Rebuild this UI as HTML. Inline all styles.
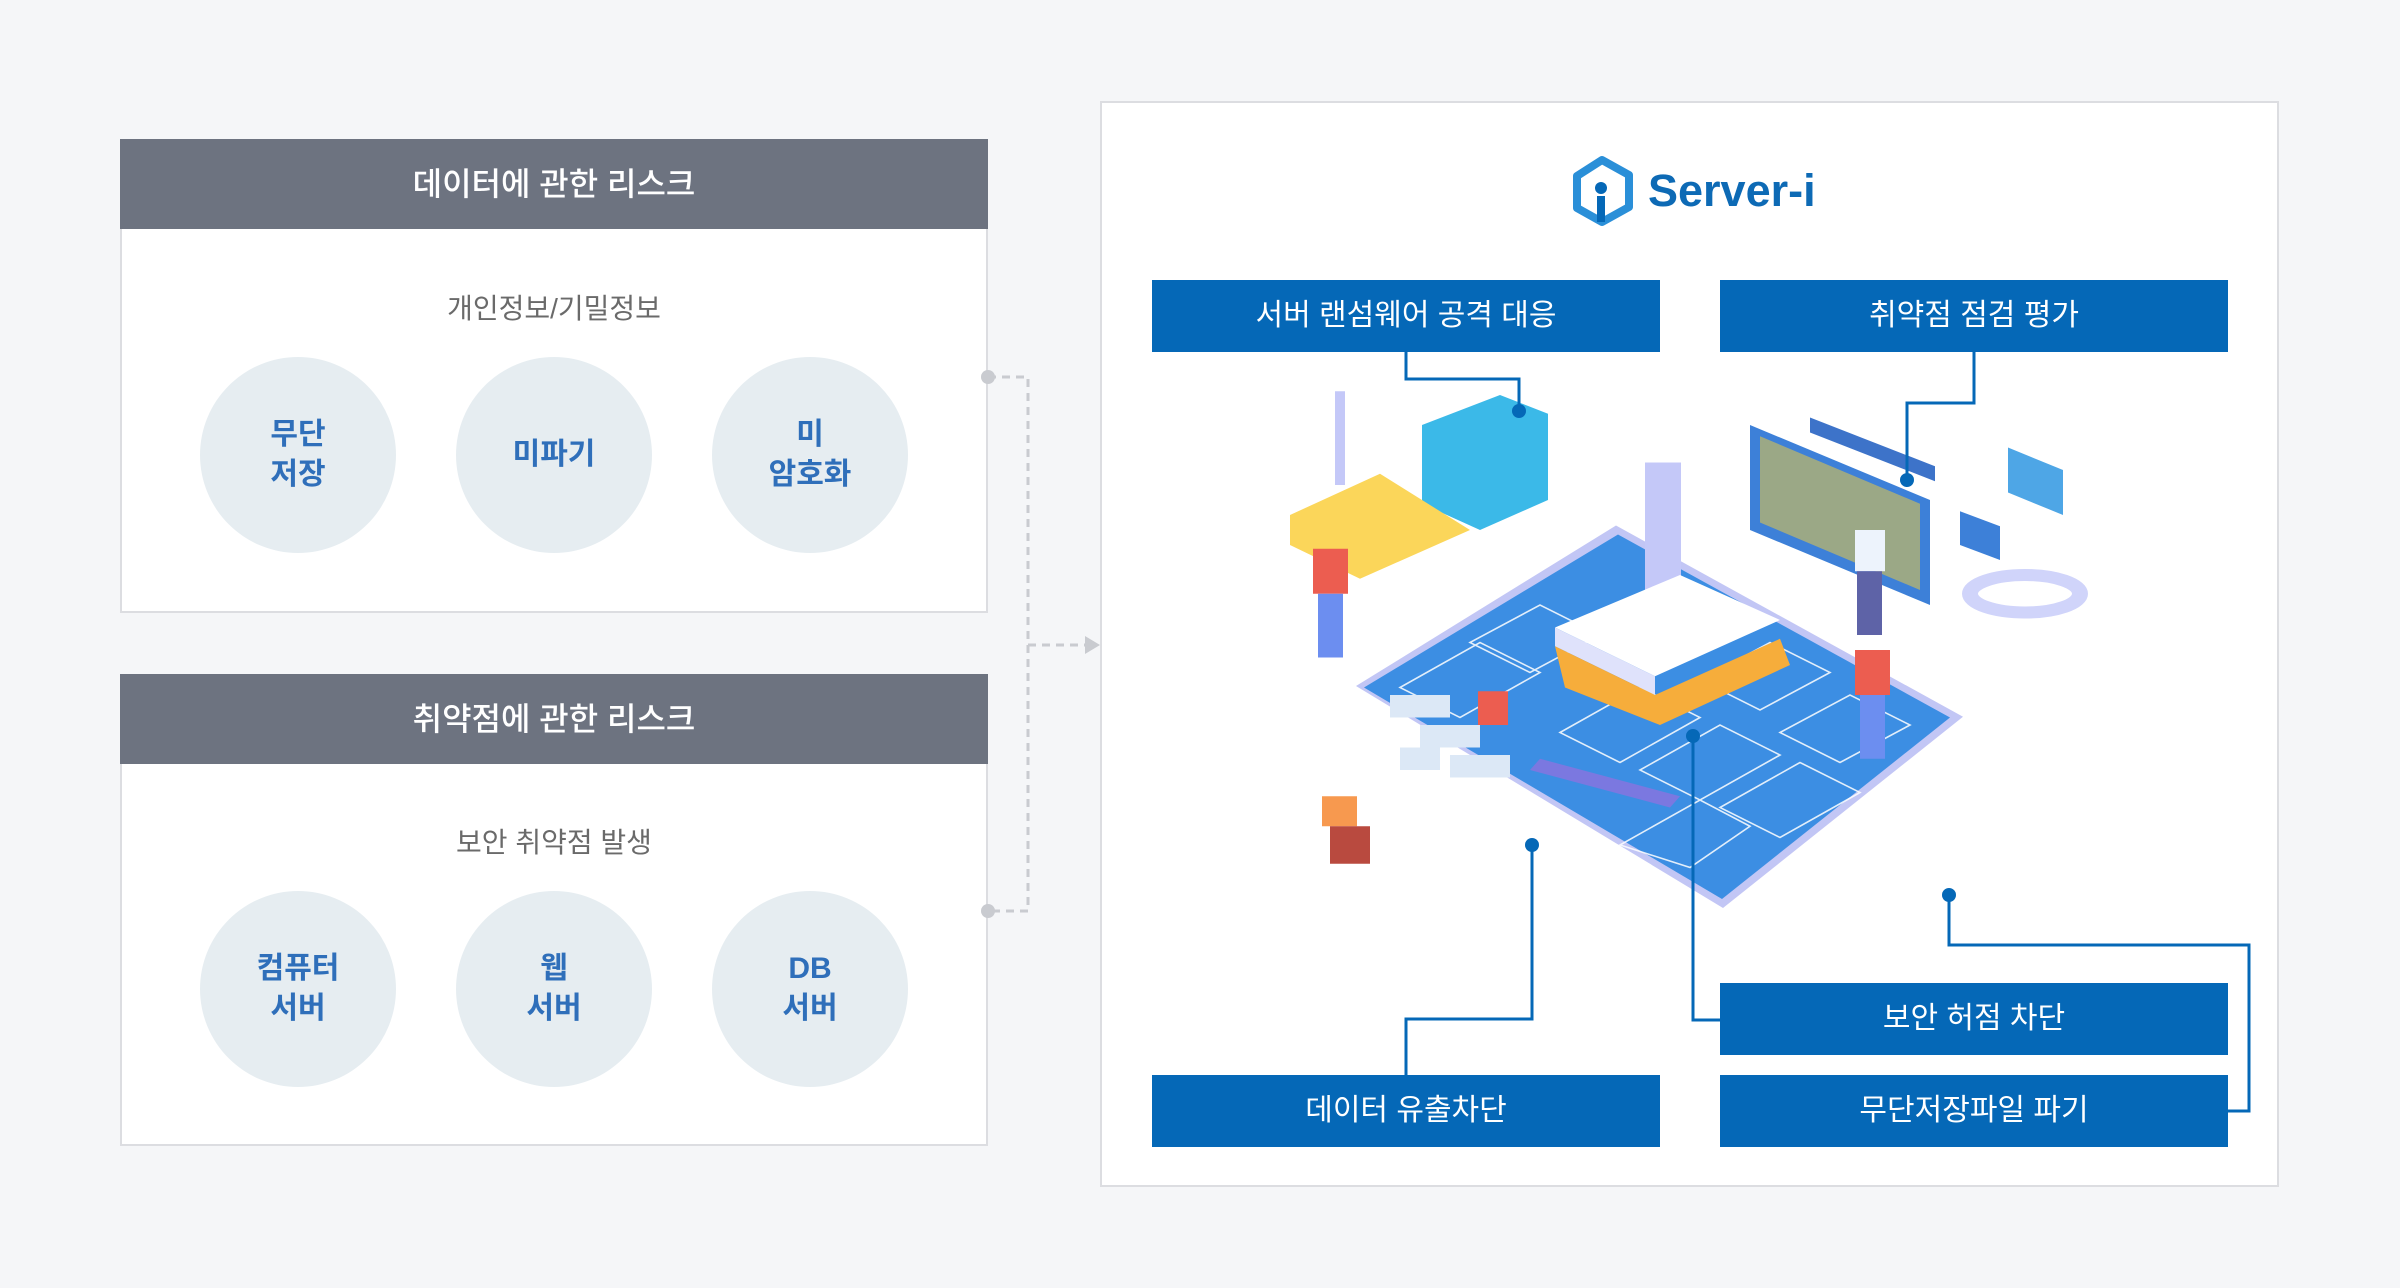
<!DOCTYPE html>
<html><head><meta charset="utf-8"><style>
*{margin:0;padding:0;box-sizing:border-box}
body{width:2400px;height:1288px;background:#f5f6f8;position:relative;overflow:hidden;font-family:"Liberation Sans","Noto Sans CJK KR",sans-serif}
.box{position:absolute;left:120px;width:868px;background:#fff;border:2px solid #dcdde1}
.hd{position:absolute;left:120px;width:868px;height:90px;background:#6d7380;color:#fff;font-size:32px;font-weight:500;text-align:center;line-height:90px}
.sub{position:absolute;left:120px;width:868px;text-align:center;font-size:28px;color:#6a6a6a}
.c{position:absolute;width:196px;height:196px;border-radius:50%;background:#e6edf1;color:#2f6fba;font-size:30px;font-weight:bold;display:flex;align-items:center;justify-content:center;text-align:center;line-height:40px}
.rb{position:absolute;left:1100px;top:101px;width:1179px;height:1086px;background:#fff;border:2px solid #dcdde1}
.bb{position:absolute;width:508px;height:72px;background:#0568b7;color:#fff;font-size:30px;text-align:center;line-height:72px}
</style></head><body>
<div class="box" style="top:139px;height:474px"></div>
<div class="hd" style="top:139px">데이터에 관한 리스크</div>
<div class="sub" style="top:287px">개인정보/기밀정보</div>
<div class="c" style="left:200px;top:357px">무단<br>저장</div>
<div class="c" style="left:456px;top:357px">미파기</div>
<div class="c" style="left:712px;top:357px">미<br>암호화</div>

<div class="box" style="top:674px;height:472px"></div>
<div class="hd" style="top:674px">취약점에 관한 리스크</div>
<div class="sub" style="top:821px">보안 취약점 발생</div>
<div class="c" style="left:200px;top:891px">컴퓨터<br>서버</div>
<div class="c" style="left:456px;top:891px">웹<br>서버</div>
<div class="c" style="left:712px;top:891px">DB<br>서버</div>

<svg style="position:absolute;left:0;top:0" width="2400" height="1288">
<g stroke="#c9cbd0" stroke-width="3" fill="none" stroke-dasharray="8,6">
<path d="M988 377 H1028 V911 H988"/><path d="M1028 645 H1090"/>
</g>
<circle cx="988" cy="377" r="7" fill="#c9cbd0"/><circle cx="988" cy="911" r="7" fill="#c9cbd0"/>
<path d="M1085 636 L1100 645 L1085 654Z" fill="#c9cbd0"/>
</svg>

<div class="rb"></div>
<svg style="position:absolute;left:0;top:0" width="2400" height="1288">
<path d="M1602 160 L1629 175 L1629 207 L1602 222 L1577 208 L1577 176Z" fill="none" stroke="#2a8fd8" stroke-width="8" stroke-linejoin="round"/>
<circle cx="1601" cy="188" r="6" fill="#0568b7"/><rect x="1597" y="196" width="8" height="26" fill="#0568b7"/>
<text x="1648" y="206" font-size="45" font-weight="bold" fill="#0d6ab5" font-family="Liberation Sans,sans-serif">Server-i</text>
<g transform="translate(0,95) scale(1,0.75)">
<path d="M1356 788 L1616 574 L1963 829 L1723 1084Z" fill="#c2c6f5"/>
<path d="M1364 790 L1618 586 L1950 830 L1722 1072Z" fill="#3c8ee3"/>
<g stroke="#fff" stroke-width="2" fill="none" opacity="0.85">
<path d="M1400 790 L1480 730 L1540 770 L1460 830Z"/><path d="M1470 730 L1540 680 L1600 720 L1530 770Z"/>
<path d="M1560 850 L1640 790 L1700 830 L1620 890Z"/><path d="M1640 900 L1720 840 L1780 880 L1700 940Z"/>
<path d="M1720 950 L1800 890 L1860 930 L1780 990Z"/><path d="M1780 850 L1850 800 L1910 840 L1840 890Z"/>
<path d="M1700 780 L1770 730 L1830 770 L1760 820Z"/><path d="M1620 1000 L1700 940 L1750 975 L1690 1030Z"/>
</g>
<rect x="1645" y="490" width="36" height="190" fill="#c4c8f8"/>
<path d="M1555 710 L1680 640 L1780 700 L1655 775Z" fill="#fff"/>
<path d="M1555 710 L1655 775 L1655 800 L1555 735Z" fill="#dfe2fb"/>
<path d="M1555 735 L1655 800 L1780 725 L1790 760 L1660 840 L1565 790Z" fill="#f6ad3b"/>
<path d="M1422 440 L1500 400 L1548 425 L1548 540 L1480 580 L1422 545Z" fill="#3bb9e8"/>
<path d="M1290 560 L1380 505 L1470 580 L1360 645 L1290 600Z" fill="#fbd65a"/>
<rect x="1335" y="395" width="10" height="125" fill="#c4c8f8"/>
<path d="M1750 440 L1930 540 L1930 680 L1750 580Z" fill="#3d80d8"/>
<path d="M1760 455 L1920 545 L1920 660 L1760 570Z" fill="#e9c843" opacity="0.55"/>
<path d="M1810 430 L1935 495 L1935 515 L1810 450Z" fill="#3d73c9"/>
<path d="M2008 470 L2063 500 L2063 560 L2008 530Z" fill="#4ea6e6"/>
<path d="M1960 555 L2000 575 L2000 620 L1960 600Z" fill="#3d80d8"/>
<ellipse cx="2025" cy="665" rx="55" ry="25" fill="none" stroke="#d0d4fa" stroke-width="16"/>
<g fill="#ec5d50"><rect x="1313" y="605" width="35" height="60"/><rect x="1855" y="740" width="35" height="60"/><rect x="1478" y="795" width="30" height="45"/></g>
<g fill="#6c8ef0"><rect x="1318" y="665" width="25" height="85"/><rect x="1860" y="800" width="25" height="85"/></g>
<rect x="1855" y="580" width="30" height="55" fill="#edf3fc"/><rect x="1857" y="635" width="25" height="85" fill="#5e63a7"/>
<rect x="1322" y="935" width="35" height="40" fill="#f7994f"/><rect x="1330" y="975" width="40" height="50" fill="#b94a3f"/>
<path d="M1530 900 L1670 950 L1680 935 L1540 885Z" fill="#7b78e0"/>
<g fill="#dce8f6"><rect x="1390" y="800" width="60" height="30"/><rect x="1420" y="840" width="60" height="30"/><rect x="1450" y="880" width="60" height="30"/><rect x="1400" y="870" width="40" height="30"/></g>
</g>
<g stroke="#0568b7" stroke-width="3" fill="none">
<path d="M1406 351 V379 H1519 V411"/>
<path d="M1974 351 V403 H1907 V480"/>
<path d="M1406 1075 V1019 H1532 V845"/>
<path d="M1720 1020 H1693 V736"/>
<path d="M2228 1111 H2249 V945 H1949 V895"/>
</g>
<g fill="#0568b7"><circle cx="1519" cy="411" r="7"/><circle cx="1907" cy="480" r="7"/><circle cx="1532" cy="845" r="7"/><circle cx="1693" cy="736" r="7"/><circle cx="1949" cy="895" r="7"/></g>
</svg>
<div class="bb" style="left:1152px;top:280px">서버 랜섬웨어 공격 대응</div>
<div class="bb" style="left:1720px;top:280px">취약점 점검 평가</div>
<div class="bb" style="left:1720px;top:983px">보안 허점 차단</div>
<div class="bb" style="left:1152px;top:1075px">데이터 유출차단</div>
<div class="bb" style="left:1720px;top:1075px">무단저장파일 파기</div>
</body></html>
